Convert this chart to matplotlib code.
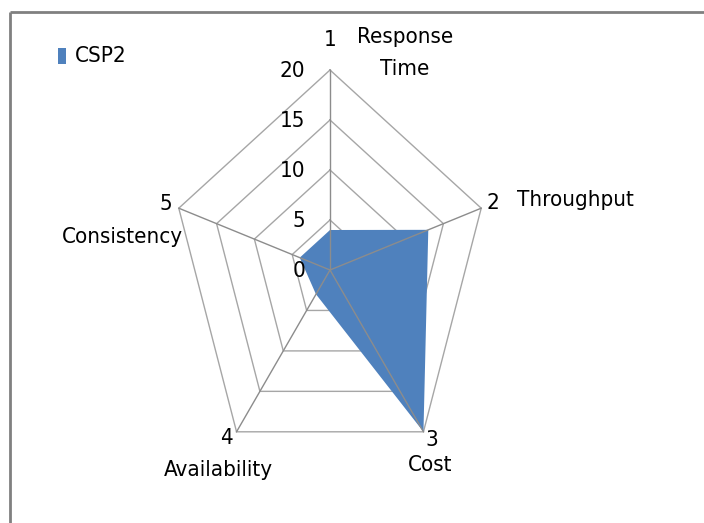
import numpy as np
import matplotlib
matplotlib.use("Agg")
import matplotlib.pyplot as plt
from matplotlib.patches import Rectangle

# Data
categories = ["Response\nTime", "Throughput", "Cost", "Availability", "Consistency"]
category_numbers = ["1", "2", "3", "4", "5"]
csp2_values = [4, 13, 20, 3, 4]
ring_ticks = [0, 5, 10, 15, 20]
series_name = "CSP2"

plt.rcParams["font.family"] = ["DejaVu Sans"]
plt.rcParams["font.stretch"] = "condensed"

W, H = 704, 523
fig = plt.figure(figsize=(W / 100, H / 100), dpi=100)
ax = fig.add_axes([0, 0, 1, 1])
ax.set_xlim(0, W)
ax.set_ylim(H, 0)
ax.axis("off")

# Radar geometry (pixel space of the canvas)
cx, cy = 330, 270
rx, ry = 159, 200
vmax = ring_ticks[-1]
n = len(categories)
angles = np.arange(n) * 2 * np.pi / n


def to_xy(values):
    v = np.asarray(values, dtype=float) / vmax
    return cx + rx * v * np.sin(angles), cy - ry * v * np.cos(angles)


ring_color = "#a6a6a6"
spoke_color = "#8c8c8c"
fill_color = "#4f81bd"

# Pentagon rings
for t in ring_ticks[1:]:
    xs, ys = to_xy([t] * n)
    ax.plot(np.append(xs, xs[0]), np.append(ys, ys[0]), color=ring_color,
            lw=1.0, zorder=1)

# Series fill
xs, ys = to_xy(csp2_values)
ax.fill(xs, ys, color=fill_color, zorder=2, lw=0)

# Spokes
ox, oy = to_xy([vmax] * n)
for x, y in zip(ox, oy):
    ax.plot([cx, x], [cy, y], color=spoke_color, lw=1.0, zorder=3)

fs = 16
# Ring value labels
for t in ring_ticks:
    _, y = to_xy([t] * n)
    ax.text(cx - 25, y[0] + 1, str(t), ha="right", va="center", fontsize=fs,
            zorder=4)

# Category numbers and names
num_pos = [(330, 40), (493, 203), (432, 440), (226, 438), (166, 204)]
name_pos = [(405, 53), (575, 200), (430, 465), (218, 470), (122, 237)]
for num, (px, py) in zip(category_numbers, num_pos):
    ax.text(px, py, num, ha="center", va="center", fontsize=fs)
for name, (px, py) in zip(categories, name_pos):
    ax.text(px, py, name, ha="center", va="center", fontsize=fs,
            linespacing=1.8)

# Legend
ax.add_patch(Rectangle((58, 48), 8, 16, color=fill_color, lw=0))
ax.text(75, 56, series_name, ha="left", va="center", fontsize=fs)

# Chart area border
ax.plot([10, 10], [H + 5, 12], color="#808080", lw=2, solid_capstyle="butt")
ax.plot([10, W + 5], [12, 12], color="#808080", lw=2, solid_capstyle="butt")

fig.savefig("out.png", dpi=100)
